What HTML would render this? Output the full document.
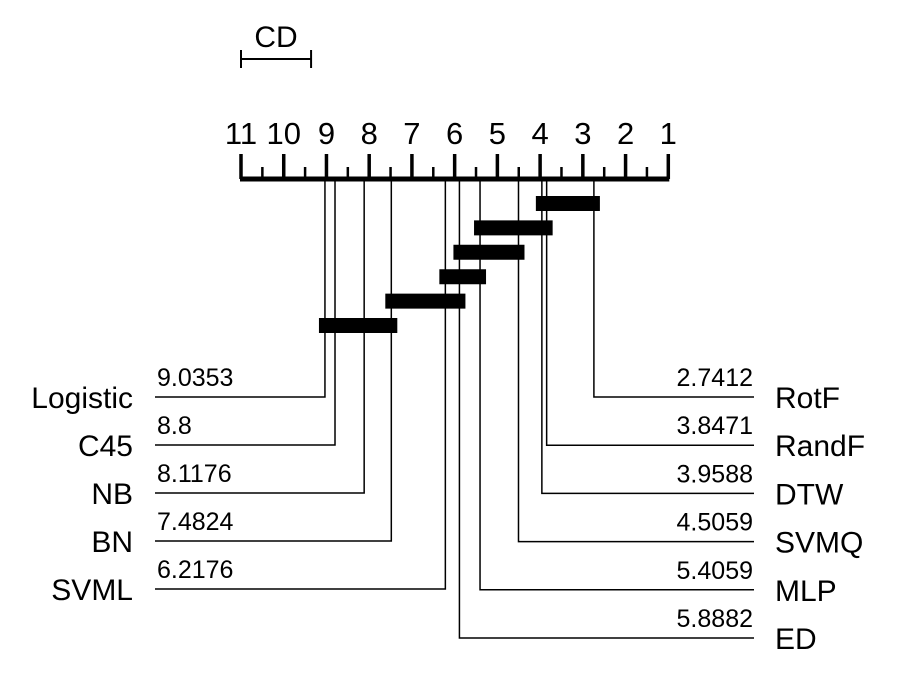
<!DOCTYPE html>
<html><head><meta charset="utf-8"><style>
html,body{margin:0;padding:0;background:#fff}
svg{display:block;font-family:"Liberation Sans",Arial,sans-serif}
</style></head><body>
<svg id="chart" width="913" height="675" viewBox="0 0 913 675"></svg>
<script>
const leftNames = ["Logistic","C45","NB","BN","SVML"];
const leftRanks = [9.0353,8.8,8.1176,7.4824,6.2176];
const leftLabels = ["9.0353","8.8","8.1176","7.4824","6.2176"];
const rightNames = ["RotF","RandF","DTW","SVMQ","MLP","ED"];
const rightRanks = [2.7412,3.8471,3.9588,4.5059,5.4059,5.8882];
const rightLabels = ["2.7412","3.8471","3.9588","4.5059","5.4059","5.8882"];
const cliqueLo = [2.7412,3.8471,4.5059,5.4059,5.8882,7.4824];
const cliqueHi = [3.9588,5.4059,5.8882,6.2176,7.4824,9.0353];
const tickLabels = ["1","2","3","4","5","6","7","8","9","10","11"];
const cdValue = 1.64;

const svg = document.getElementById('chart');
const NS = 'http://www.w3.org/2000/svg';
const x = r => 668.3 - (r - 1) * 42.73;
const axisY = 179;
function mk(tag, attrs, parent){const e=document.createElementNS(NS,tag);for(const k in attrs)e.setAttribute(k,attrs[k]);(parent||svg).appendChild(e);return e;}

const cd = mk('g',{});


const cdx1 = x(11), cdx2 = x(11 - cdValue);
mk('line',{x1:cdx1,y1:59,x2:cdx2,y2:59,stroke:'#000','stroke-width':2},cd);
mk('line',{x1:cdx1,y1:50,x2:cdx1,y2:68,stroke:'#000','stroke-width':2},cd);
mk('line',{x1:cdx2,y1:50,x2:cdx2,y2:68,stroke:'#000','stroke-width':2},cd);
const cdt = mk('text',{x:(cdx1+cdx2)/2,y:47,'text-anchor':'middle','font-size':30},cd);
cdt.textContent='CD';

const ax = mk('g',{});


mk('line',{x1:x(11)-1,y1:axisY,x2:x(1)+1,y2:axisY,stroke:'#000','stroke-width':5},ax);
for(let i=0;i<tickLabels.length;i++){
  const r = +tickLabels[i];
  mk('line',{x1:x(r),y1:154,x2:x(r),y2:axisY,stroke:'#000','stroke-width':3.5},ax);
  const t = mk('text',{x:x(r),y:144,'text-anchor':'middle','font-size':31},ax);
  
  
  t.textContent = tickLabels[i];
  if(r<11) mk('line',{x1:x(r+0.5),y1:167,x2:x(r+0.5),y2:axisY,stroke:'#000','stroke-width':2.5},ax);
}

leftNames.forEach((n,i)=>{
  const g = mk('g',{});
  
  
  const ly = 397 + i*48, rx = x(leftRanks[i]);
  mk('polyline',{points:`${rx},${axisY} ${rx},${ly} 155,${ly}`,fill:'none',stroke:'#000','stroke-width':1.5},g);
  const v = mk('text',{x:157,y:ly-11,'font-size':25},g);
  v.textContent = leftLabels[i];
  const nm = mk('text',{x:133,y:ly+11,'text-anchor':'end','font-size':30},g);
  nm.textContent = n;
});
rightNames.forEach((n,i)=>{
  const g = mk('g',{});
  
  
  const ly = 397 + i*48.2, rx = x(rightRanks[i]);
  mk('polyline',{points:`${rx},${axisY} ${rx},${ly} 754,${ly}`,fill:'none',stroke:'#000','stroke-width':1.5},g);
  const v = mk('text',{x:753,y:ly-11,'text-anchor':'end','font-size':25},g);
  v.textContent = rightLabels[i];
  const nm = mk('text',{x:775,y:ly+11,'font-size':30},g);
  nm.textContent = n;
});
cliqueLo.forEach((lo,i)=>{
  const hi = cliqueHi[i];
  const cy = 203.5 + i*24.4;
  const b = mk('line',{x1:x(hi)-6,y1:cy,x2:x(lo)+6,y2:cy,stroke:'#000','stroke-width':15});
  
  
});
</script>
</body></html>
